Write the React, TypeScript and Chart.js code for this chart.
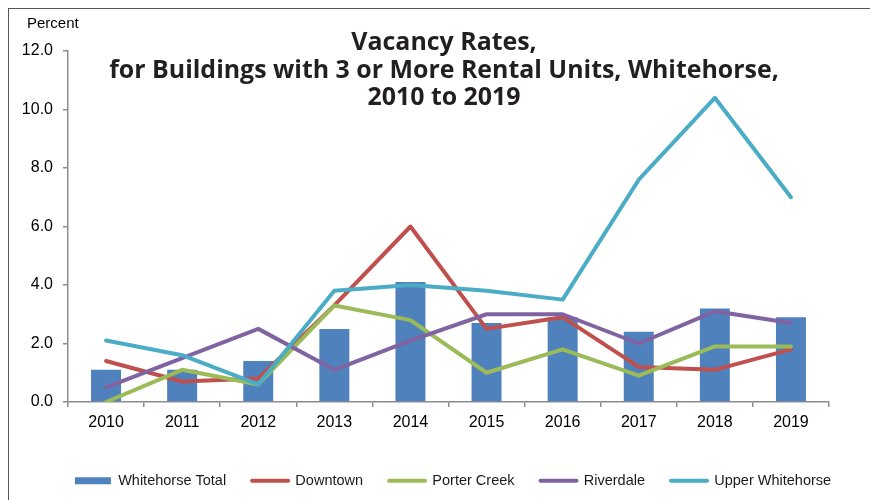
import { useEffect, useRef } from "react";
import { Chart, registerables } from "chart.js";

Chart.register(...registerables);

const years = ["2010", "2011", "2012", "2013", "2014", "2015", "2016", "2017", "2018", "2019"];
const whitehorseTotal = [1.1, 1.1, 1.4, 2.5, 4.1, 2.7, 2.9, 2.4, 3.2, 2.9];
const downtown = [1.4, 0.7, 0.8, 3.3, 6.0, 2.5, 2.9, 1.2, 1.1, 1.8];
const porterCreek = [0.0, 1.1, 0.6, 3.3, 2.8, 1.0, 1.8, 0.9, 1.9, 1.9];
const riverdale = [0.5, 1.5, 2.5, 1.1, 2.1, 3.0, 3.0, 2.0, 3.1, 2.7];
const upperWhitehorse = [2.1, 1.6, 0.6, 3.8, 4.0, 3.8, 3.5, 7.6, 10.4, 7.0];

const titleLines = [
  "Vacancy Rates,",
  "for Buildings with 3 or More Rental Units, Whitehorse,",
  "2010 to 2019",
];
const yUnitLabel = "Percent";

const SANS = '"Liberation Sans", Arial, sans-serif';
const TITLE_FAMILY = '"Open Sans", "DejaVu Sans", sans-serif';
const AXIS_GRAY = "#8c8c8c";

const overlayText = {
  id: "overlayText",
  afterDraw(chart: any) {
    const ctx = chart.ctx as CanvasRenderingContext2D;
    ctx.save();
    ctx.fillStyle = "#231f20";
    ctx.font = `700 20px ${TITLE_FAMILY}`;
    const w = ctx.measureText(titleLines[1]).width;
    const size = (20 * 670) / w;
    ctx.font = `700 ${size}px ${TITLE_FAMILY}`;
    ctx.textAlign = "center";
    ctx.textBaseline = "alphabetic";
    const baselines = [42, 69.5, 97];
    titleLines.forEach((t, i) => ctx.fillText(t, 436, baselines[i]));
    ctx.font = `15px ${SANS}`;
    ctx.textAlign = "left";
    ctx.textBaseline = "middle";
    ctx.fillStyle = "#000";
    ctx.fillText(yUnitLabel, 19, 16);
    ctx.restore();
  },
};

export default function App() {
  const ref = useRef<HTMLCanvasElement | null>(null);

  useEffect(() => {
    if (!ref.current) return;
    const lineDs = (label: string, data: number[], color: string, order: number) => ({
      type: "line" as const,
      label,
      data,
      borderColor: color,
      backgroundColor: color,
      borderWidth: 4,
      pointRadius: 0,
      pointHoverRadius: 0,
      tension: 0,
      fill: false,
      borderCapStyle: "round" as const,
      borderJoinStyle: "round" as const,
      order,
      yAxisID: "y",
    });

    const chart = new Chart(ref.current, {
      type: "bar",
      data: {
        labels: years,
        datasets: [
          {
            type: "bar" as const,
            label: "Whitehorse Total",
            data: whitehorseTotal,
            backgroundColor: "#4f81bd",
            borderWidth: 0,
            barPercentage: 0.394,
            categoryPercentage: 1,
            order: 5,
            yAxisID: "y",
          },
          lineDs("Downtown", downtown, "#c0504d", 4),
          lineDs("Porter Creek", porterCreek, "#9bbb59", 3),
          lineDs("Riverdale", riverdale, "#8064a2", 2),
          lineDs("Upper Whitehorse", upperWhitehorse, "#4bacc6", 1),
        ] as any,
      },
      options: {
        responsive: false,
        animation: false,
        devicePixelRatio: 1,
        layout: { padding: { top: 43, left: 0, right: -20, bottom: 2 } },
        plugins: {
          title: { display: false },
          tooltip: { enabled: false },
          legend: {
            position: "bottom",
            align: "center",
            labels: {
              usePointStyle: true,
              pointStyleWidth: 36,
              boxHeight: 7,
              padding: 26,
              color: "#1a1a1a",
              font: { size: 14.5, family: SANS },
              generateLabels: (c: any) =>
                c.data.datasets.map((ds: any, i: number) => {
                  const isBar = ds.type === "bar";
                  const col = isBar ? ds.backgroundColor : ds.borderColor;
                  return {
                    text: ds.label,
                    datasetIndex: i,
                    fillStyle: col,
                    strokeStyle: col,
                    lineWidth: isBar ? 0 : 4,
                    lineCap: "round",
                    pointStyle: isBar ? "rect" : "line",
                    hidden: false,
                    fontColor: "#1a1a1a",
                  };
                }),
            },
          },
        },
        scales: {
          x: {
            type: "category",
            offset: true,
            grid: {
              display: true,
              offset: true,
              drawOnChartArea: false,
              drawTicks: true,
              tickLength: 5,
              color: AXIS_GRAY,
              lineWidth: 1.5,
            },
            border: { display: true, color: AXIS_GRAY, width: 1.5 },
            ticks: {
              color: "#000",
              font: { size: 16, family: SANS },
              padding: 6,
              maxRotation: 0,
              autoSkip: false,
            },
            afterFit: (s: any) => {
              s.height = 45.5;
            },
          },
          y: {
            position: "left",
            min: 0,
            max: 12,
            grid: {
              drawOnChartArea: false,
              drawTicks: true,
              tickLength: 5,
              color: AXIS_GRAY,
              lineWidth: 1.5,
            },
            border: { display: true, color: AXIS_GRAY, width: 1.5 },
            ticks: {
              stepSize: 2,
              color: "#000",
              font: { size: 16, family: SANS },
              padding: 10,
              callback: (v: any) => Number(v).toFixed(1),
            },
            afterFit: (s: any) => {
              s.width = 60;
            },
          },
          y2: {
            position: "right",
            display: true,
            grid: { display: false },
            ticks: { display: false },
            border: { display: false },
            afterFit: (s: any) => {
              s.width = 69;
            },
          },
        },
      } as any,
      plugins: [overlayText],
    });
    return () => chart.destroy();
  }, []);

  return (
    <div style={{ position: "relative", width: 870, height: 492 }}>
      <canvas
        ref={ref}
        width={870}
        height={492}
        style={{ position: "absolute", left: 0, top: 0, display: "block", width: 870, height: 492 }}
      />
      <div
        style={{
          position: "absolute",
          left: -1,
          top: -1,
          width: 871,
          height: 493,
          boxSizing: "border-box",
          borderTop: "2px solid #555",
          borderLeft: "2px solid #555",
          pointerEvents: "none",
        }}
      />
    </div>
  );
}
